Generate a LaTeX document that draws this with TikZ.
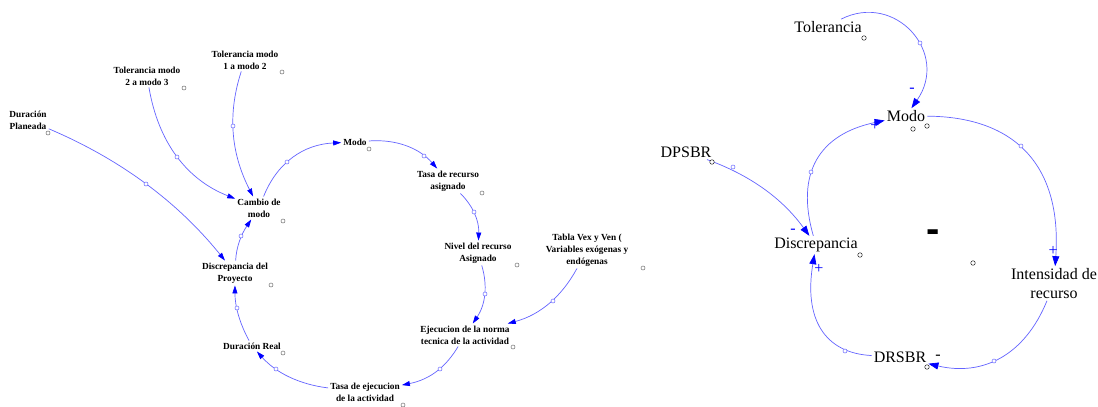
\documentclass[tikz,border=0pt]{standalone}
\usepackage{fontspec}
\setmainfont{Liberation Serif}
\newfontfamily\signfont{Liberation Sans}
\usetikzlibrary{arrows.meta}
\definecolor{lnk}{RGB}{100,100,255}
\definecolor{tipc}{RGB}{0,0,255}
\definecolor{hnd}{RGB}{110,110,110}
\tikzset{
  lvar/.style={inner sep=2pt, align=center, font=\bfseries\fontsize{9.3}{12}\selectfont},
  rvar/.style={inner sep=2pt, align=center, font=\fontsize{16}{19}\selectfont},
  llink/.style={draw=lnk, line width=0.7pt, -{Triangle[length=8pt,width=5pt,color=tipc]}},
  rlink/.style={draw=lnk, line width=0.7pt, -{Triangle[length=10pt,width=7pt,color=tipc]}},
  handle/.style={circle, draw=lnk, fill=white, line width=0.5pt, inner sep=0pt, minimum size=4pt},
  vdot/.style={circle, draw=hnd, fill=white, line width=0.5pt, inner sep=0pt, minimum size=4pt},
  vdotr/.style={circle, draw=black!85, fill=white, line width=0.5pt, inner sep=0pt, minimum size=4.5pt},
  sgn/.style={text=tipc, font=\fontsize{16}{16}\selectfont, inner sep=0pt},
  bigsgn/.style={inner sep=0pt, font={\signfont\bfseries\fontsize{40}{40}\selectfont}},
}
\begin{document}
\begin{tikzpicture}[x=1pt,y=-1pt]
\clip (0,0) rectangle (1098,407);
\fill[white] (0,0) rectangle (1098,407);

% ---------- left diagram ----------
\node[lvar] (DP) at (28,120) {Duración\\Planeada};
\node[lvar] (TM23) at (147,76) {Tolerancia modo\\2 a modo 3};
\node[lvar] (TM12) at (245,60) {Tolerancia modo\\1 a modo 2};
\node[lvar] (CdM) at (259,208) {Cambio de\\modo};
\node[lvar] (ModoL) at (355,142) {Modo};
\node[lvar] (TRA) at (448,181) {Tasa de recurso\\asignado};
\node[lvar] (NRA) at (478,253) {Nivel del recurso\\Asignado};
\node[lvar] (Tabla) at (587,250) {Tabla Vex y Ven (\\Variables exógenas y\\endógenas};
\node[lvar] (ENT) at (465,335) {Ejecucion de la norma\\tecnica de la actividad};
\node[lvar] (TEA) at (365,392.5) {Tasa de ejecucion\\de la actividad};
\node[lvar] (DR) at (252,346) {Duración Real};
\node[lvar] (DdP) at (235,273) {Discrepancia del\\Proyecto};

\draw[llink] (DP) .. controls (120.7,159.3) and (178,202.3) .. (DdP);
\draw[llink] (TM23) .. controls (158.3,142.3) and (186.7,179.7) .. (CdM);
\draw[llink] (TM12) .. controls (227.7,113) and (230.4,152.3) .. (CdM);
\draw[llink] (DdP) .. controls (236.3,247.3) and (241,234.7) .. (CdM);
\draw[llink] (CdM) .. controls (277.1,162.6) and (303.5,144.3) .. (ModoL);
\draw[llink] (ModoL) .. controls (396.5,138.9) and (419.5,148.3) .. (TRA);
\draw[llink] (TRA) .. controls (473.2,206.2) and (479.2,220.9) .. (NRA);
\draw[llink] (NRA) .. controls (487.7,285.3) and (485.7,304.3) .. (ENT);
\draw[llink] (Tabla) .. controls (562.4,295.2) and (541.4,314.5) .. (ENT);
\draw[llink] (ENT) .. controls (446.3,366.3) and (430.7,379.3) .. (TEA);
\draw[llink] (TEA) .. controls (298.8,384.3) and (275.8,372.6) .. (DR);
\draw[llink] (DR) .. controls (239.9,323.8) and (234.9,306.5) .. (DdP);

\node[handle] (hl1) at (146,184) {};
\node[handle] (hl2) at (177,157) {};
\node[handle] (hl3) at (233,126) {};
\node[handle] (hl4) at (241,236) {};
\node[handle] (hl5) at (287,162) {};
\node[handle] (hl6) at (424,156) {};
\node[handle] (hl7) at (474,212) {};
\node[handle] (hl8) at (485,294) {};
\node[handle] (hl9) at (553,301) {};
\node[handle] (hl10) at (440,369) {};
\node[handle] (hl11) at (276,369) {};
\node[handle] (hl12) at (237,308) {};

\node[vdot] (dl1) at (48,133) {};
\node[vdot] (dl2) at (184,88) {};
\node[vdot] (dl3) at (282,72) {};
\node[vdot] (dl4) at (283,221) {};
\node[vdot] (dl5) at (369,149) {};
\node[vdot] (dl6) at (482,193) {};
\node[vdot] (dl7) at (517,265) {};
\node[vdot] (dl8) at (643,268) {};
\node[vdot] (dl9) at (271,285) {};
\node[vdot] (dl10) at (513,347) {};
\node[vdot] (dl11) at (403,405) {};
\node[vdot] (dl12) at (283,353) {};

% ---------- right diagram ----------
\node[rvar] (Tol) at (828,27) {Tolerancia};
\node[rvar] (ModoR) at (906,116) {Modo};
\node[rvar] (DPSBR) at (686,152) {DPSBR};
\node[rvar] (Disc) at (816,245) {Discrepancia};
\node[rvar] (Int) at (1054,283.5) {Intensidad de\\recurso};
\node[rvar] (DRSBR) at (900,357) {DRSBR};

\draw[rlink] ([xshift=13pt]Tol.north) .. controls (895.4,-8.4) and (949.8,53.1) .. (ModoR);
\draw[rlink] (ModoR) .. controls (1016.5,116.8) and (1061.8,166.8) .. (Int);
\draw[rlink] (Int) .. controls (1024.9,354.9) and (983.2,376.6) .. (DRSBR);
\draw[rlink] (DRSBR) .. controls (824.4,353.1) and (803.7,318.8) .. (Disc);
\draw[rlink] (DPSBR) .. controls (750.7,175.3) and (782.7,199) .. (Disc);
\draw[rlink] (Disc) .. controls (795.1,172.7) and (819.5,134.1) .. (ModoR);

\node[handle] (hr1) at (920,43) {};
\node[handle] (hr2) at (1021,146) {};
\node[handle] (hr3) at (994,361) {};
\node[handle] (hr4) at (845,351) {};
\node[handle] (hr5) at (811,172) {};
\node[handle] (hr6) at (733,167) {};

\node[vdotr] (dr1) at (864,38) {};
\node[vdotr] (dr2) at (913,129) {};
\node[vdotr] (dr3) at (927,126) {};
\node[vdotr] (dr4) at (860,255) {};
\node[vdotr] (dr5) at (973,263) {};
\node[vdotr] (dr6) at (927,367) {};
\node[vdotr] (dr7) at (712,162) {};

\node[sgn] (s1) at (912,90) {-};
\node[sgn] (s2) at (875,126) {+};
\node[sgn] (s3) at (1053,251) {+};
\node[sgn, text=black] (s4) at (938,357) {-};
\node[sgn] (s5) at (793,231) {-};
\node[sgn] (s6) at (819,269) {+};
\node[bigsgn] (loop) at (933,236) {-};
\end{tikzpicture}
\end{document}
